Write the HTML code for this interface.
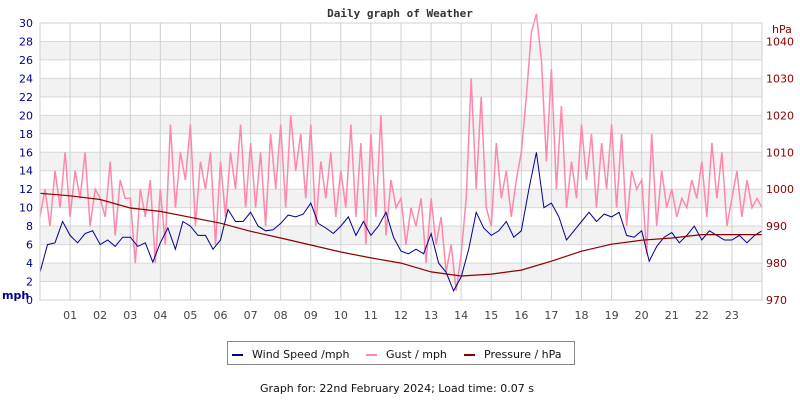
<!DOCTYPE html>
<html><head><meta charset="utf-8"><style>
body{margin:0;background:#fff;width:800px;height:400px;overflow:hidden}
svg text{font-family:"DejaVu Sans","Liberation Sans",sans-serif;font-size:11px}
</style></head><body>
<svg id="chart" width="800" height="400" xmlns="http://www.w3.org/2000/svg">
<rect width="800" height="400" fill="#fff"/>
<text x="400" y="17" text-anchor="middle" style="font-family:'DejaVu Sans Mono','Liberation Mono',monospace;font-weight:bold;font-size:11px" fill="#333">Daily graph of Weather</text>
<g id="bands"></g><g id="grid"></g><g id="series"></g><g id="axes"></g>
<rect x="227.5" y="341.5" width="347" height="23" fill="#fff" stroke="#888"/>
<line x1="232" y1="355" x2="243" y2="355" stroke="#000090" stroke-width="2"/>
<text x="252" y="358" fill="#111">Wind Speed /mph</text>
<line x1="366" y1="355" x2="377" y2="355" stroke="#ff88aa" stroke-width="2"/>
<text x="386" y="358" fill="#111">Gust / mph</text>
<line x1="464" y1="355" x2="475" y2="355" stroke="#8b0000" stroke-width="2"/>
<text x="484" y="358" fill="#111">Pressure / hPa</text>
<text x="397" y="392" text-anchor="middle" fill="#111">Graph for: 22nd February 2024; Load time: 0.07 s</text>
</svg>
<script>
const hourLabels=["01","02","03","04","05","06","07","08","09","10","11","12","13","14","15","16","17","18","19","20","21","22","23"];
const mphTicks=[0,2,4,6,8,10,12,14,16,18,20,22,24,26,28,30];
const hpaTicks=[970,980,990,1000,1010,1020,1030,1040];
const wind=[3,6,6.2,8.5, 7,6.2,7.2,7.5, 6,6.5,5.8,6.8, 6.8,5.8,6.2,4.1, 6.2,7.8,5.5,8.5, 8,7,7,5.5, 6.5,9.8,8.5,8.5, 9.5,8,7.5,7.6, 8.3,9.2,9,9.3, 10.5,8.3,7.8,7.2, 8,9,7,8.5, 7,8,9.5,6.8, 5.3,5,5.5,5, 7.2,4,3,1, 2.5,5.5,9.5,7.8, 7,7.5,8.5,6.8, 7.5,12,16,10, 10.5,9,6.5,7.5, 8.5,9.5,8.5,9.3, 9,9.5,7,6.8, 7.5,4.2,5.8,6.8, 7.3,6.2,7,8, 6.5,7.5,7,6.5, 6.5,7,6.2,7, 7.5];
const gust=[9,12,8,14,10,16, 9,14,11,16,8,12, 11,9,15,7,13,11, 11,4,12,9,13,4, 12,6,19,10,16,13, 19,8,15,12,16,6, 15,9,16,12,19,10, 17,10,16,8,18,12, 19,10,20,14,18,11, 19,8,15,11,16,9, 14,10,19,9,17,6, 18,9,20,7,13,10, 11,6,10,8,11,4, 11,6,9,3,6,1, 5,11,24,12,22,10, 8,17,11,14,9,13, 16,22,29,31,26,15, 25,12,21,10,15,11, 19,13,18,10,17,12, 19,10,18,8,14,12, 13,5,18,8,14,10, 12,9,11,10,13,11, 15,9,17,11,16,8, 11,14,9,13,10,11, 10];
const pressure=[998.9,998.2,997.2,994.9,994,992.4,990.8,988.6,986.8,984.9,983,981.4,980,977.6,976.5,977,978.1,980.5,983.2,985.1,986.2,986.8,987.7,987.7,987.7];
const L=40,R=762,T=23,B=300,NS="http://www.w3.org/2000/svg";
const xH=h=>L+(R-L)*h/24;
const yM=v=>B-(B-T)*v/30;
const yP=p=>B-(B-T)*(p-970)/75;
function mk(tag,attrs,parent){const e=document.createElementNS(NS,tag);for(const k in attrs)e.setAttribute(k,attrs[k]);parent.appendChild(e);return e;}
const bands=document.getElementById('bands'),grid=document.getElementById('grid'),series=document.getElementById('series'),axes=document.getElementById('axes');
mk('rect',{x:L,y:T,width:R-L,height:B-T,fill:'#fff'},bands);
for(let v=2;v<30;v+=4){const r=mk('rect',{x:L,y:yM(v+2),width:R-L,height:yM(v)-yM(v+2),fill:'#f2f2f2'},bands);

}
mphTicks.forEach(v=>{const l=mk('line',{x1:L,x2:R,y1:yM(v),y2:yM(v),stroke:'#d8d8d8'},grid);


const t=mk('text',{x:33,y:yM(v)+4,'text-anchor':'end',fill:'#00008b'},axes);t.textContent=v;

});
hourLabels.forEach((s,i)=>{const x=xH(i+1);const l=mk('line',{x1:x,x2:x,y1:T,y2:B,stroke:'#d0d0d0'},grid);


const t=mk('text',{x:x,y:319,'text-anchor':'middle',fill:'#444'},axes);t.textContent=s;

});
hpaTicks.forEach(p=>{const t=mk('text',{x:766,y:yP(p)+4,fill:'#8b0000'},axes);t.textContent=p;

});
mk('rect',{x:L,y:T,width:R-L,height:B-T,fill:'none',stroke:'#d0d0d0'},axes);
const u=mk('text',{x:2,y:299,fill:'#00008b','font-weight':'bold'},axes);u.textContent='mph';


const hp=mk('text',{x:772,y:33,fill:'#8b0000'},axes);hp.textContent='hPa';


function line(arr,fx,fy,color,name,w){const n=arr.length-1;const d=arr.map((v,i)=>(i?'L':'M')+fx(24*i/n).toFixed(1)+','+fy(v).toFixed(1)).join('');
const p=mk('path',{d:d,fill:'none',stroke:color,'stroke-width':w},series);

}
line(gust,xH,yM,'#ff88aa','gust-line',1.5);
line(wind,xH,yM,'#000090','wind-speed-line',1);
line(pressure,xH,yP,'#8b0000','pressure-line',1.2);
</script>
</body></html>
